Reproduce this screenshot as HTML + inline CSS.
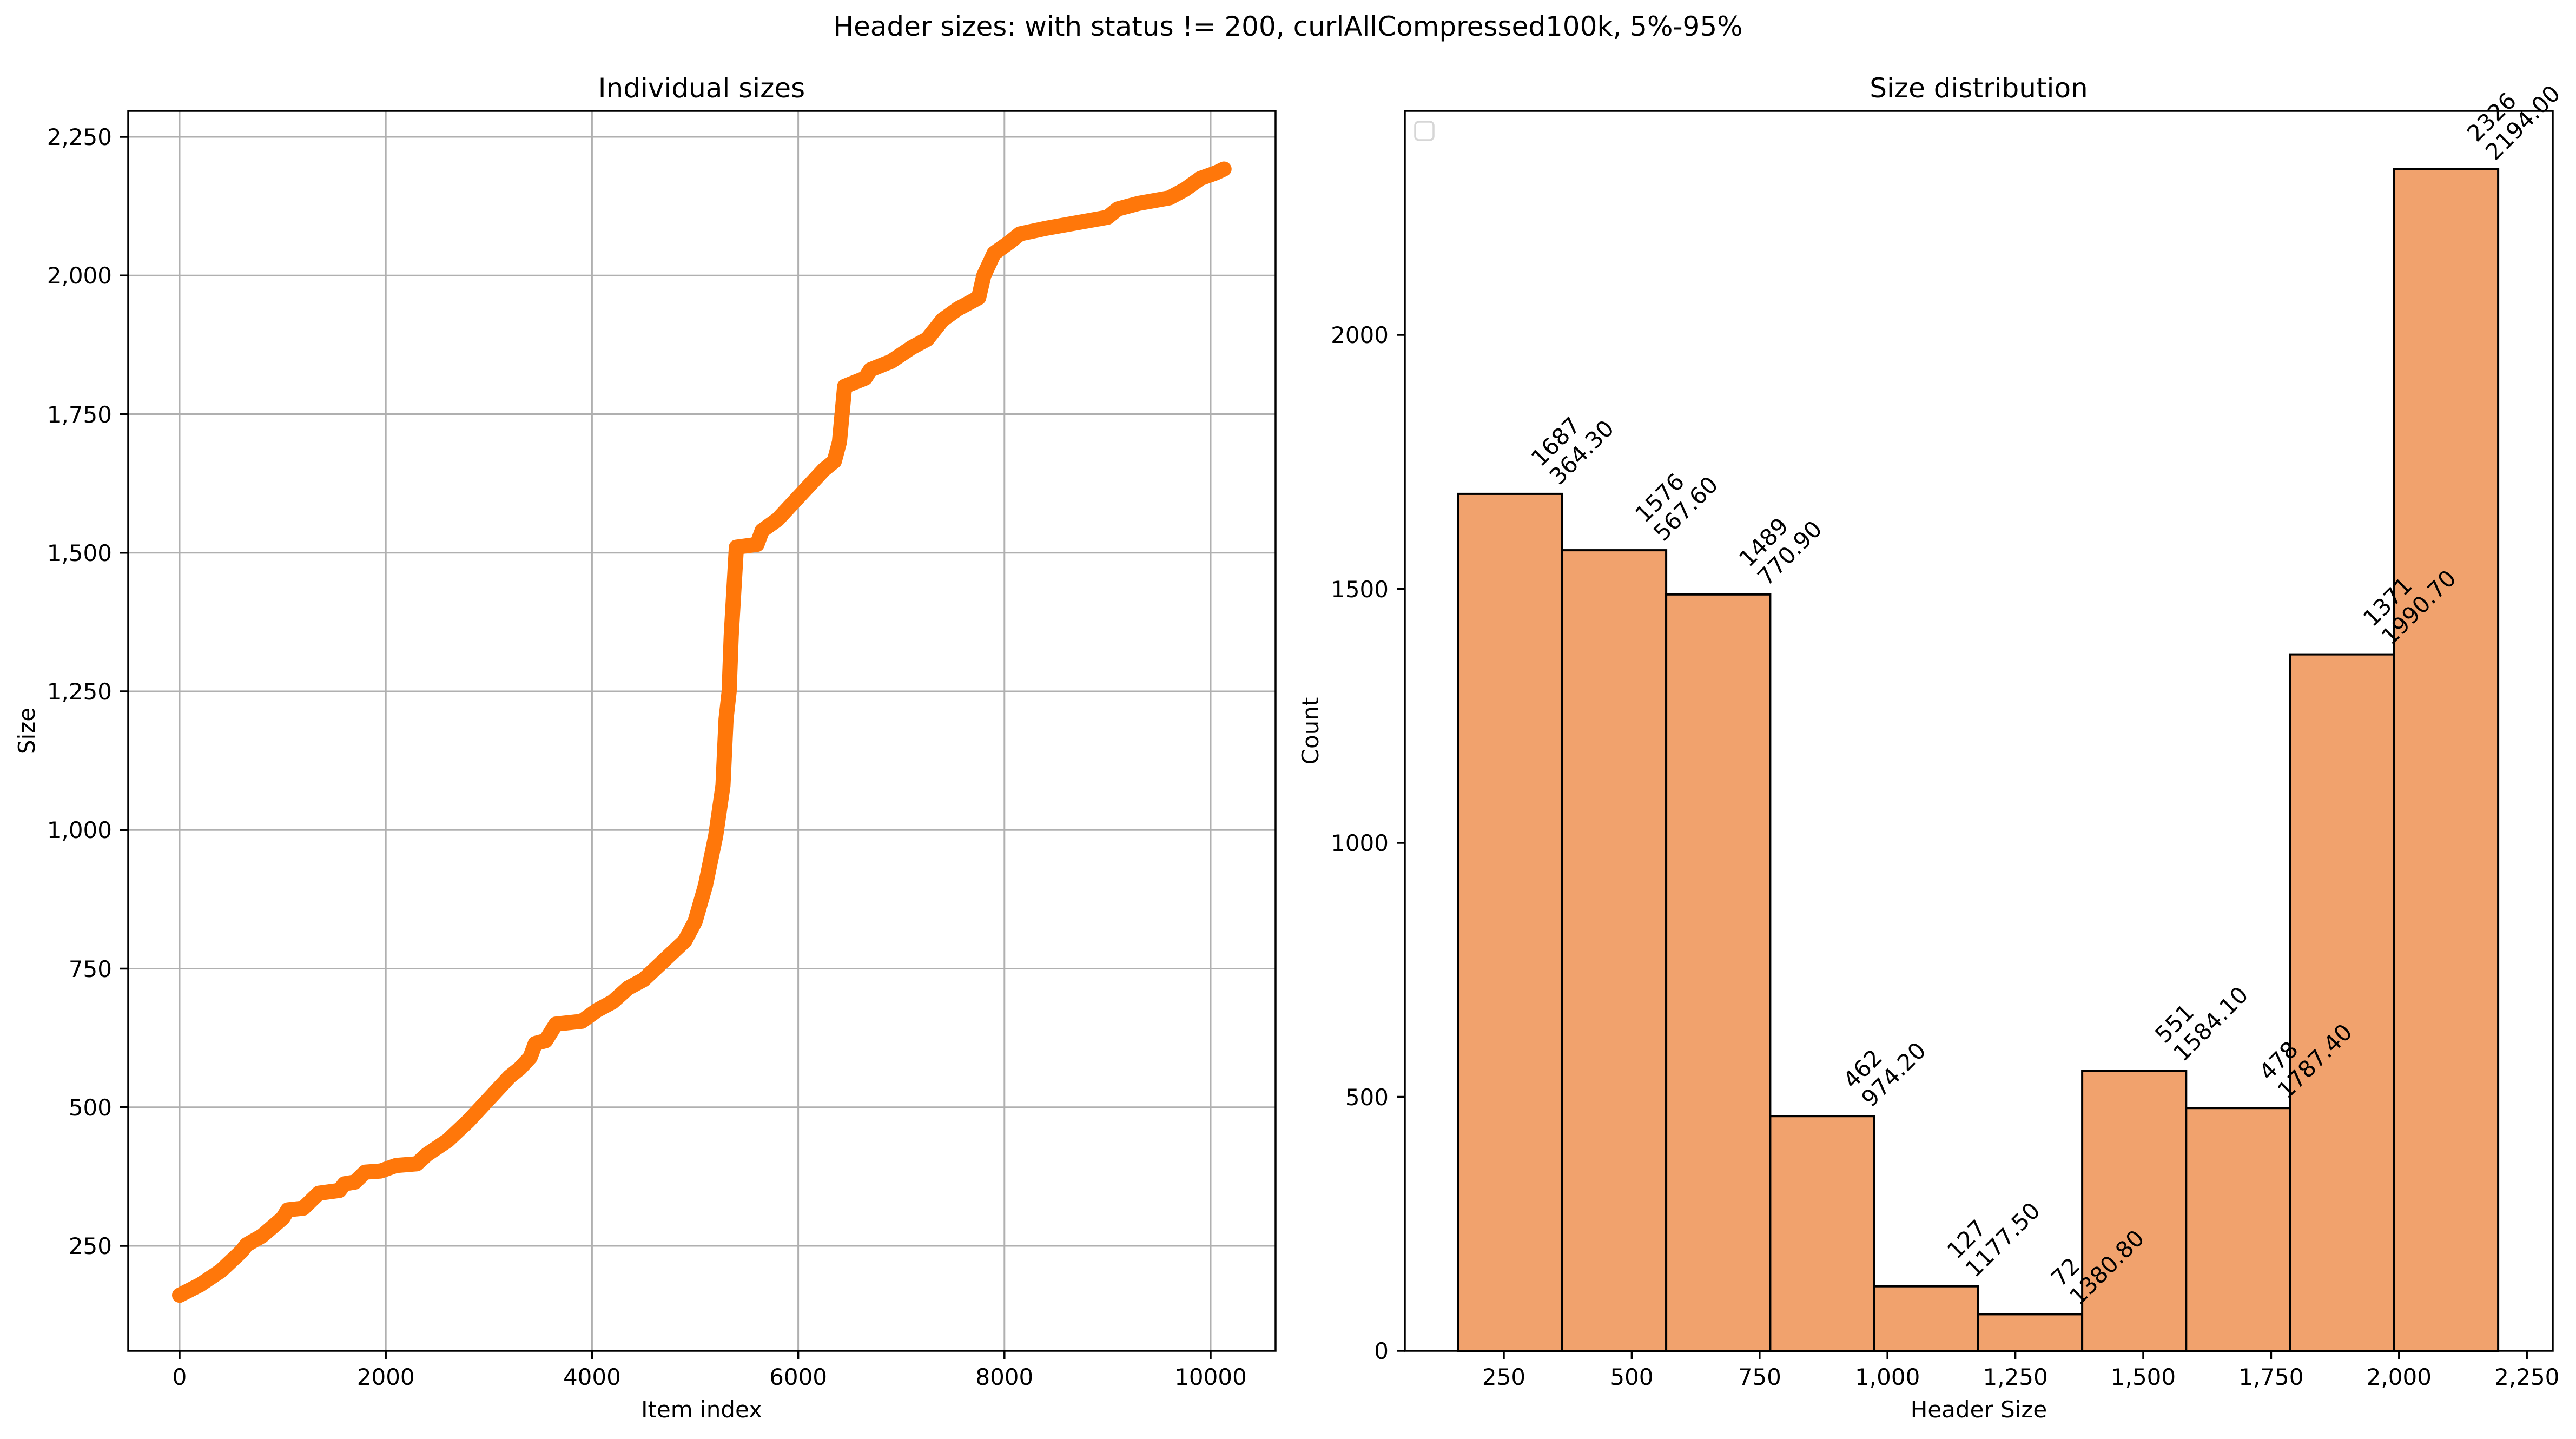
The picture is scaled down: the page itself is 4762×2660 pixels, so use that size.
<!DOCTYPE html>
<html><head><meta charset="utf-8"><style>html,body{margin:0;padding:0;background:#fff}svg{display:block}text{font-family:"DejaVu Sans","Liberation Sans",sans-serif;fill:#000}</style></head>
<body>
<svg width="4762" height="2660" viewBox="0 0 4762 2660" xmlns="http://www.w3.org/2000/svg">
<rect width="4762" height="2660" fill="#fff"/>
<text x="2381" y="66" font-size="50" text-anchor="middle">Header sizes: with status != 200, curlAllCompressed100k, 5%-95%</text>

<!-- LEFT -->
<text x="1297" y="180" font-size="50" text-anchor="middle">Individual sizes</text>
<g stroke="#b0b0b0" stroke-width="3">
<line x1="332" y1="205" x2="332" y2="2497"/><line x1="713.2" y1="205" x2="713.2" y2="2497"/><line x1="1094.4" y1="205" x2="1094.4" y2="2497"/><line x1="1475.6" y1="205" x2="1475.6" y2="2497"/><line x1="1856.8" y1="205" x2="1856.8" y2="2497"/><line x1="2238" y1="205" x2="2238" y2="2497"/>
<line x1="237" y1="2303" x2="2358" y2="2303"/><line x1="237" y1="2046.75" x2="2358" y2="2046.75"/><line x1="237" y1="1790.5" x2="2358" y2="1790.5"/><line x1="237" y1="1534.25" x2="2358" y2="1534.25"/><line x1="237" y1="1278" x2="2358" y2="1278"/><line x1="237" y1="1021.75" x2="2358" y2="1021.75"/><line x1="237" y1="765.5" x2="2358" y2="765.5"/><line x1="237" y1="509.25" x2="2358" y2="509.25"/><line x1="237" y1="253" x2="2358" y2="253"/>
</g>
<g transform="translate(332,2303) scale(0.1906,-1.025) translate(0,-250)">
<polyline fill="none" stroke="#ff770a" stroke-width="28" stroke-linecap="round" stroke-linejoin="round" vector-effect="non-scaling-stroke" points="0,161 200,180 400,205 600,240 650,252 800,268 1000,300 1050,315 1200,318 1350,345 1550,350 1600,362 1700,365 1800,383 1950,385 2100,395 2300,398 2400,415 2600,440 2800,475 3000,515 3200,555 3300,570 3400,590 3450,615 3550,620 3650,650 3900,655 4050,675 4200,690 4350,715 4500,730 4700,765 4900,800 5000,835 5100,900 5200,990 5270,1080 5300,1200 5330,1250 5350,1350 5400,1510 5600,1515 5650,1540 5800,1560 5950,1590 6100,1620 6250,1650 6350,1665 6400,1700 6450,1800 6650,1815 6700,1830 6900,1845 7100,1870 7250,1885 7400,1920 7550,1940 7750,1960 7800,2000 7900,2040 8050,2060 8150,2075 8400,2085 8700,2095 9000,2105 9100,2120 9300,2130 9600,2140 9750,2155 9900,2175 10050,2185 10130,2192"/>
</g>
<rect x="237" y="205" width="2121" height="2292" fill="none" stroke="#000" stroke-width="3.5"/>
<g stroke="#000" stroke-width="3.5">
<line x1="332" y1="2497" x2="332" y2="2512"/><line x1="713.2" y1="2497" x2="713.2" y2="2512"/><line x1="1094.4" y1="2497" x2="1094.4" y2="2512"/><line x1="1475.6" y1="2497" x2="1475.6" y2="2512"/><line x1="1856.8" y1="2497" x2="1856.8" y2="2512"/><line x1="2238" y1="2497" x2="2238" y2="2512"/>
<line x1="222" y1="2303" x2="237" y2="2303"/><line x1="222" y1="2046.75" x2="237" y2="2046.75"/><line x1="222" y1="1790.5" x2="237" y2="1790.5"/><line x1="222" y1="1534.25" x2="237" y2="1534.25"/><line x1="222" y1="1278" x2="237" y2="1278"/><line x1="222" y1="1021.75" x2="237" y2="1021.75"/><line x1="222" y1="765.5" x2="237" y2="765.5"/><line x1="222" y1="509.25" x2="237" y2="509.25"/><line x1="222" y1="253" x2="237" y2="253"/>
</g>
<g font-size="42" text-anchor="middle">
<text x="332" y="2560">0</text><text x="713.2" y="2560">2000</text><text x="1094.4" y="2560">4000</text><text x="1475.6" y="2560">6000</text><text x="1856.8" y="2560">8000</text><text x="2238" y="2560">10000</text>
</g>
<g font-size="42" text-anchor="end">
<text x="207" y="2318">250</text><text x="207" y="2062">500</text><text x="207" y="1806">750</text><text x="207" y="1549">1,000</text><text x="207" y="1293">1,250</text><text x="207" y="1037">1,500</text><text x="207" y="781">1,750</text><text x="207" y="524">2,000</text><text x="207" y="268">2,250</text>
</g>
<text x="1297" y="2620" font-size="42" text-anchor="middle">Item index</text>
<text transform="translate(64,1351) rotate(-90)" font-size="42" text-anchor="middle">Size</text>

<!-- RIGHT -->
<text x="3658" y="180" font-size="50" text-anchor="middle">Size distribution</text>
<g fill="#f1a26d" stroke="#000" stroke-width="4">
<rect x="2695.8" y="912.9" width="192" height="1584.1"/>
<rect x="2887.8" y="1017.1" width="192.3" height="1479.9"/>
<rect x="3080.1" y="1098.8" width="192.3" height="1398.2"/>
<rect x="3272.4" y="2063.2" width="192.2" height="433.8"/>
<rect x="3464.6" y="2377.7" width="192.2" height="119.3"/>
<rect x="3656.8" y="2429.4" width="192.3" height="67.6"/>
<rect x="3849.1" y="1979.6" width="192.2" height="517.4"/>
<rect x="4041.3" y="2048.2" width="192.3" height="448.8"/>
<rect x="4233.6" y="1209.6" width="192.2" height="1287.4"/>
<rect x="4425.8" y="312.9" width="192.3" height="2184.1"/>
</g>
<g font-size="42">
<g transform="translate(2887.8,904) rotate(-45)"><text x="0" y="-56">1687</text><text x="0" y="-8">364.30</text></g>
<g transform="translate(3080.1,1008) rotate(-45)"><text x="0" y="-56">1576</text><text x="0" y="-8">567.60</text></g>
<g transform="translate(3272.4,1090) rotate(-45)"><text x="0" y="-56">1489</text><text x="0" y="-8">770.90</text></g>
<g transform="translate(3464.6,2054) rotate(-45)"><text x="0" y="-56">462</text><text x="0" y="-8">974.20</text></g>
<g transform="translate(3656.8,2369) rotate(-45)"><text x="0" y="-56">127</text><text x="0" y="-8">1177.50</text></g>
<g transform="translate(3849.1,2420) rotate(-45)"><text x="0" y="-56">72</text><text x="0" y="-8">1380.80</text></g>
<g transform="translate(4041.3,1970) rotate(-45)"><text x="0" y="-56">551</text><text x="0" y="-8">1584.10</text></g>
<g transform="translate(4233.6,2039) rotate(-45)"><text x="0" y="-56">478</text><text x="0" y="-8">1787.40</text></g>
<g transform="translate(4425.8,1200) rotate(-45)"><text x="0" y="-56">1371</text><text x="0" y="-8">1990.70</text></g>
<g transform="translate(4618.1,304) rotate(-45)"><text x="0" y="-56">2326</text><text x="0" y="-8">2194.00</text></g>
</g>
<rect x="2616" y="225" width="34" height="34" rx="7" fill="#fff" stroke="#d6d6d6" stroke-width="3.5"/>
<rect x="2597" y="205" width="2122" height="2292" fill="none" stroke="#000" stroke-width="3.5"/>
<g stroke="#000" stroke-width="3.5">
<line x1="2780" y1="2497" x2="2780" y2="2512"/><line x1="3016.4" y1="2497" x2="3016.4" y2="2512"/><line x1="3252.8" y1="2497" x2="3252.8" y2="2512"/><line x1="3489.2" y1="2497" x2="3489.2" y2="2512"/><line x1="3725.6" y1="2497" x2="3725.6" y2="2512"/><line x1="3962" y1="2497" x2="3962" y2="2512"/><line x1="4198.4" y1="2497" x2="4198.4" y2="2512"/><line x1="4434.8" y1="2497" x2="4434.8" y2="2512"/><line x1="4671.2" y1="2497" x2="4671.2" y2="2512"/>
<line x1="2582" y1="2497" x2="2597" y2="2497"/><line x1="2582" y1="2027.5" x2="2597" y2="2027.5"/><line x1="2582" y1="1558" x2="2597" y2="1558"/><line x1="2582" y1="1088.5" x2="2597" y2="1088.5"/><line x1="2582" y1="619" x2="2597" y2="619"/>
</g>
<g font-size="42" text-anchor="middle">
<text x="2780" y="2560">250</text><text x="3016.4" y="2560">500</text><text x="3252.8" y="2560">750</text><text x="3489.2" y="2560">1,000</text><text x="3725.6" y="2560">1,250</text><text x="3962" y="2560">1,500</text><text x="4198.4" y="2560">1,750</text><text x="4434.8" y="2560">2,000</text><text x="4671.2" y="2560">2,250</text>
</g>
<g font-size="42" text-anchor="end">
<text x="2567" y="2512">0</text><text x="2567" y="2043">500</text><text x="2567" y="1573">1000</text><text x="2567" y="1104">1500</text><text x="2567" y="634">2000</text>
</g>
<text x="3658" y="2620" font-size="42" text-anchor="middle">Header Size</text>
<text transform="translate(2437,1351) rotate(-90)" font-size="42" text-anchor="middle">Count</text>
</svg>
</body></html>
